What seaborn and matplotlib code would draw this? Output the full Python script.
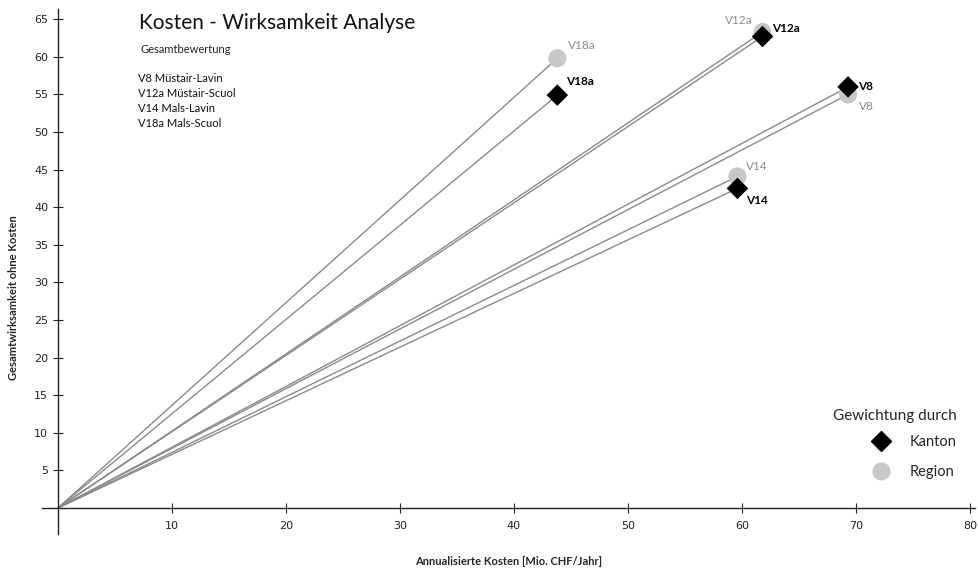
import matplotlib
matplotlib.use("Agg")
import matplotlib.pyplot as plt
from matplotlib.lines import Line2D
import seaborn as sns
import pandas as pd

variants = ["V8", "V12a", "V14", "V18a"]
kosten = [69.3, 61.8, 59.6, 43.8]
wirk_kanton = [56.0, 62.7, 42.5, 54.9]
wirk_region = [55.0, 63.3, 44.1, 59.8]
beschreibung = ["V8 Müstair-Lavin", "V12a Müstair-Scuol", "V14 Mals-Lavin", "V18a Mals-Scuol"]
x_ticks = [10, 20, 30, 40, 50, 60, 70, 80]
y_ticks = [5, 10, 15, 20, 25, 30, 35, 40, 45, 50, 55, 60, 65]

sns.set_theme(style="white")
plt.rcParams["font.family"] = ["Lato", "DejaVu Sans"]

KANTON_C = "#000000"
REGION_C = "#c8c8c8"
LINE_C = "#8a8a8a"

df = pd.DataFrame({
    "Variante": variants * 2,
    "Kosten": kosten * 2,
    "Wirksamkeit": wirk_region + wirk_kanton,
    "Gewichtung": ["Region"] * 4 + ["Kanton"] * 4,
})

fig = plt.figure(figsize=(9.79, 5.70), dpi=100)
ax = fig.add_axes([0.0429, 0.0626, 0.9526, 0.9209])

# rays from the origin to every evaluated point
for _, r in df.iterrows():
    ax.plot([0, r["Kosten"]], [0, r["Wirksamkeit"]], color=LINE_C, lw=1.0, zorder=1)

sns.scatterplot(data=df[df.Gewichtung == "Region"], x="Kosten", y="Wirksamkeit",
                color=REGION_C, marker="o", s=170, edgecolor="none", ax=ax, zorder=3,
                legend=False)
sns.scatterplot(data=df[df.Gewichtung == "Kanton"], x="Kosten", y="Wirksamkeit",
                color=KANTON_C, marker="D", s=120, edgecolor="none", ax=ax, zorder=4,
                legend=False)

# point labels (offsets in points)
off_k = {"V8": (7, 0, "left", "center"), "V12a": (7, 6, "left", "center"),
         "V14": (6, -9, "left", "center"), "V18a": (6, 10, "left", "center")}
off_r = {"V8": (8, -9, "left", "center"), "V12a": (-7, 8, "right", "center"),
         "V14": (6, 7, "left", "center"), "V18a": (8, 9, "left", "center")}
for v, x, yk, yr in zip(variants, kosten, wirk_kanton, wirk_region):
    dx, dy, ha, va = off_k[v]
    ax.annotate(v, (x, yk), xytext=(dx, dy), textcoords="offset points",
                ha=ha, va=va, fontsize=8.5, color=KANTON_C, fontweight="bold", zorder=5)
    dx, dy, ha, va = off_r[v]
    ax.annotate(v, (x, yr), xytext=(dx, dy), textcoords="offset points",
                ha=ha, va=va, fontsize=8.5, color="#8c8c8c", zorder=5)

ax.set_xlim(-1.4, 80.4)
ax.set_ylim(-3.5, 66.3)
for s in ["top", "right"]:
    ax.spines[s].set_visible(False)
ax.spines["left"].set_position(("data", 0))
ax.spines["bottom"].set_position(("data", 0))
for s in ["left", "bottom"]:
    ax.spines[s].set_color("#222222")
    ax.spines[s].set_linewidth(1.0)
ax.set_xticks(x_ticks)
ax.set_yticks(y_ticks)
ax.tick_params(axis="both", direction="inout", length=7, width=0.8, colors="#222222",
               labelsize=8, bottom=True, left=True)
for lab in ax.get_xticklabels() + ax.get_yticklabels():
    lab.set_fontfamily("DejaVu Sans")
ax.xaxis.set_tick_params(pad=6)

ax.set_xlabel("")
ax.set_ylabel("")
fig.text(0.519, 0.005, "Annualisierte Kosten [Mio. CHF/Jahr]", ha="center", va="bottom",
         fontsize=8, fontweight="bold")
fig.text(0.014, 0.477, "Gesamtwirksamkeit ohne Kosten", ha="center", va="center",
         rotation=90, fontsize=8, fontweight="bold")

fig.text(0.142, 0.960, "Kosten - Wirksamkeit Analyse", ha="left", va="center",
         fontsize=15, color="#111111")
fig.text(0.144, 0.914, "Gesamtbewertung", ha="left", va="center", fontsize=8, color="#222222")
for i, t in enumerate(beschreibung):
    fig.text(0.141, 0.862 - i * 0.0265, t, ha="left", va="center", fontsize=8, color="#111111")

handles = [
    Line2D([], [], marker="D", color=KANTON_C, ls="none", markersize=10),
    Line2D([], [], marker="o", color=REGION_C, ls="none", markersize=12),
]
leg = ax.legend(handles, ["Kanton", "Region"], title="Gewichtung durch",
                loc="lower right", bbox_to_anchor=(0.995, 0.08), frameon=False,
                fontsize=10.5, title_fontsize=11, handletextpad=1.0, labelspacing=1.1,
                markerfirst=True)
leg._legend_box.align = "right"
leg._legend_box.sep = 9

fig.savefig("out.png", dpi=100)
